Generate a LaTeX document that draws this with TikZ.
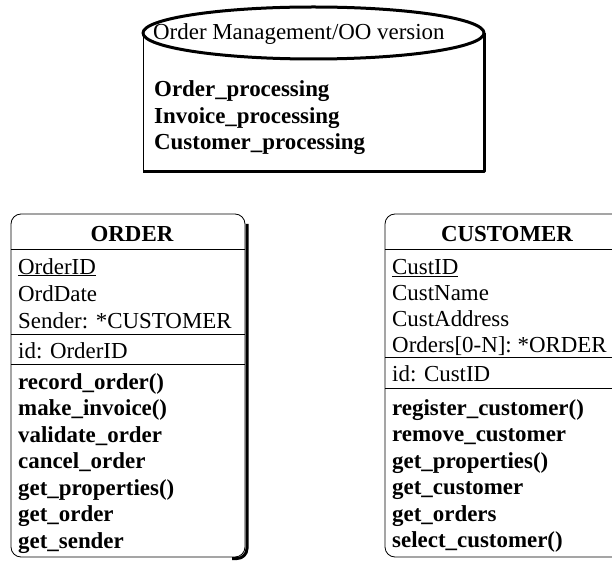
\documentclass[tikz,border=0pt]{standalone}
\usepackage{fontspec}
\setmainfont{Liberation Serif}
\begin{document}
\begin{tikzpicture}[x=1bp, y=-1bp,
    txt/.style = {anchor=base west, inner sep=0pt, font=\fontsize{23}{26}\selectfont},
    op/.style = {txt, font=\fontsize{23}{26}\selectfont\bfseries},
    boxtitle/.style = {anchor=base, inner sep=0pt, font=\fontsize{23}{26}\selectfont\bfseries},
    rule/.style = {line width=0.8bp},
    heavyline/.style = {line width=3bp, line join=round}]

    \useasboundingbox (0,0) rectangle (612,562);
    \clip (0,0) rectangle (612,562);

    % module (top)
    \draw[rule] (143,33) -- (143,172);
    \draw[heavyline] (143,172) -- (484,172) -- (484,33);
    \draw[heavyline, fill=white] (313.5,33) ellipse [x radius=170.5bp, y radius=26bp];
    \node[txt] (modname) at (153,40) {Order Management/OO version};
    \node[op] (mod1) at (154,97) {Order\_processing};
    \node[op] (mod2) at (154,123.5) {Invoice\_processing};
    \node[op] (mod3) at (154,150) {Customer\_processing};

    % ORDER
    \draw[rule, rounded corners=10bp] (11,214) rectangle (245,557);
    \draw[heavyline, rounded corners=10bp] (247,224) -- (247,558.5) -- (232,558.5);
    \node[boxtitle] (ordtitle) at (132,242) {ORDER};
    \draw[rule] (11,249) -- (245,249);
    \node[txt] (orda1) at (18,274) {\underline{OrderID}};
    \node[txt] (orda2) at (18,301) {OrdDate};
    \node[txt] (orda3) at (18,328) {Sender: *CUSTOMER};
    \draw[rule] (11,334) -- (245,334);
    \node[txt] (ordid) at (18,358) {id: OrderID};
    \draw[rule] (11,364) -- (245,364);
    \foreach \m [count=\i] in {record\_order(), make\_invoice(), validate\_order,
        cancel\_order, get\_properties(), get\_order, get\_sender}
      \node[op] (ordm\i) at (18,362.5+26.5*\i) {\m};

    % CUSTOMER
    \draw[rule, rounded corners=10bp] (385,214) rectangle (640,557);
    \node[boxtitle] (custtitle) at (507,242) {CUSTOMER};
    \draw[rule] (385,249) -- (640,249);
    \node[txt] (custa1) at (392,274.5) {\underline{CustID}};
    \node[txt] (custa2) at (392,300.5) {CustName};
    \node[txt] (custa3) at (392,326.5) {CustAddress};
    \node[txt] (custa4) at (392,352.5) {Orders[0-N]: *ORDER};
    \draw[rule] (385,357) -- (640,357);
    \node[txt] (custid) at (392,381) {id: CustID};
    \draw[rule] (385,388) -- (640,388);
    \foreach \m [count=\i] in {register\_customer(), remove\_customer, get\_properties(),
        get\_customer, get\_orders, select\_customer()}
      \node[op] (custm\i) at (392,388.5+26.5*\i) {\m};

\end{tikzpicture}
\end{document}
